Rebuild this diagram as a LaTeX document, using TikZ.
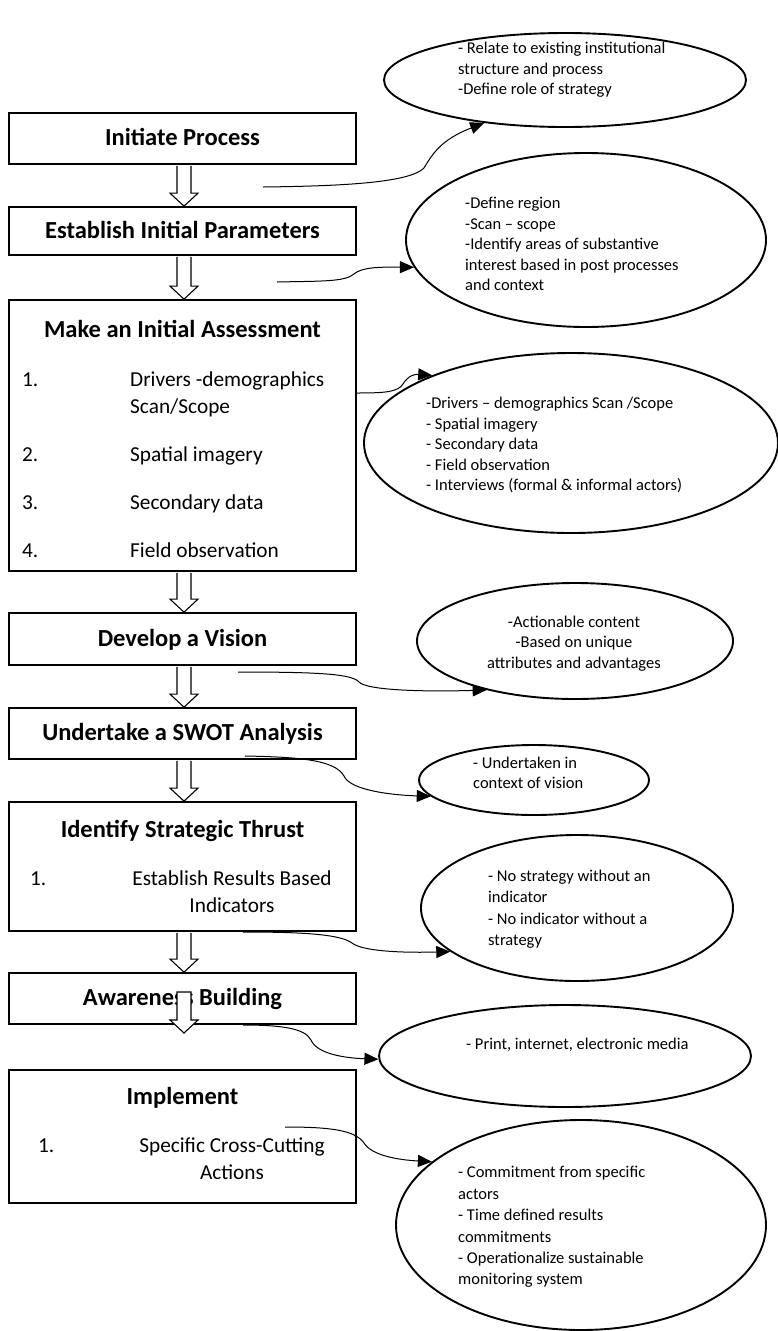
\documentclass[tikz,border=0pt]{standalone}
\usepackage{fontspec}
\setmainfont{Carlito}
\usetikzlibrary{arrows.meta,calc,shapes.geometric}

% hollow down arrow from #1 (top centre) to #2 (tip)
\newcommand\downblock[2]{%
  \draw[blockarrow] let \p1=(#1), \p2=(#2) in
    (\x1-7pt,\y1) -- (\x1-7pt,\y2+13pt) -- (\x1-14pt,\y2+13pt) -- (\x1,\y2)
    -- (\x1+14pt,\y2+13pt) -- (\x1+7pt,\y2+13pt) -- (\x1+7pt,\y1);}

\begin{document}
\begin{tikzpicture}[x=1pt,y=-1pt,
  stepbox/.style={draw, line width=1.7pt, minimum width=347pt, inner sep=0pt},
  steptitle/.style={font=\fontsize{24.5}{29}\selectfont\bfseries, inner sep=0pt,
    text height=19.5pt, text depth=5pt},
  listline/.style={font=\fontsize{21.3}{27}\selectfont, inner sep=0pt, anchor=west,
    text height=16pt, text depth=5.3pt},
  listblock/.style={font=\fontsize{21.3}{27}\selectfont, inner sep=0pt},
  bubble/.style={draw, ellipse, line width=1.9pt, inner sep=0pt},
  bubbletext/.style={font=\fontsize{16.5}{20.5}\selectfont, inner sep=0pt, align=left, anchor=west},
  curvelink/.style={line width=1pt, -{Triangle[length=14pt,width=12pt]}},
  blockarrow/.style={draw, fill=white, line width=1.1pt, line join=miter},
]
\useasboundingbox (0,0) rectangle (777,1331);
\fill[white] (0,0) rectangle (777,1331);

% ---- process steps ----
\node[stepbox, steptitle, minimum height=51pt] (b1) at (182.5,138.5) {Initiate Process};
\node[stepbox, steptitle, minimum height=48pt] (b2) at (182.5,231) {Establish Initial Parameters};
\node[stepbox, minimum height=271pt] (b3) at (182.5,435.5) {};
\node[stepbox, steptitle, minimum height=52pt] (b4) at (182.5,639) {Develop a Vision};
\node[stepbox, steptitle, minimum height=51pt] (b5) at (182.5,733.5) {Undertake a SWOT Analysis};
\node[stepbox, minimum height=129pt] (b6) at (182.5,866.5) {};
\node[stepbox, steptitle, minimum height=51pt] (b7) at (182.5,998.5) {Awareness Building};
\node[stepbox, minimum height=133pt] (b8) at (182.5,1136.5) {};

% titles and lists inside the tall steps
\node[steptitle] (b3t) at (182.5,330) {Make an Initial Assessment};
\node[listline] (b3n1) at (22,381) {1.};
\node[listblock, align=left, anchor=west] (b3i1) at (130,394.5) {Drivers -demographics\\Scan/Scope};
\node[listline] (b3n2) at (22,456) {2.};
\node[listline] (b3i2) at (130,456) {Spatial imagery};
\node[listline] (b3n3) at (22,504) {3.};
\node[listline] (b3i3) at (130,504) {Secondary data};
\node[listline] (b3n4) at (22,552) {4.};
\node[listline] (b3i4) at (130,552) {Field observation};

\node[steptitle] (b6t) at (182.5,830) {Identify Strategic Thrust};
\node[listline] (b6n1) at (30,880) {1.};
\node[listblock, align=center] (b6i1) at (232,892) {Establish Results Based\\Indicators};

\node[steptitle] (b8t) at (182.5,1097) {Implement};
\node[listline] (b8n1) at (38,1147) {1.};
\node[listblock, align=center] (b8i1) at (232,1159) {Specific Cross-Cutting\\Actions};

% ---- notes ----
\node[bubble, minimum width=362pt, minimum height=94pt] (e1) at (565,80) {};
\node[bubble, minimum width=360pt, minimum height=174pt] (e2) at (586,240) {};
\node[bubble, minimum width=414pt, minimum height=180pt] (e3) at (571,443) {};
\node[bubble, minimum width=316pt, minimum height=116pt] (e4) at (575,641) {};
\node[bubble, minimum width=230pt, minimum height=70pt] (e5) at (534,780) {};
\node[bubble, minimum width=312pt, minimum height=146pt] (e6) at (577,908) {};
\node[bubble, minimum width=372pt, minimum height=102pt] (e7) at (565,1056) {};
\node[bubble, minimum width=370pt, minimum height=210pt] (e8) at (581,1225) {};

\node[bubbletext] (n1) at (458,70) {- Relate to existing institutional\\structure and process\\-Define role of strategy};
\node[bubbletext] (n2) at (465,244) {-Define region\\-Scan – scope\\-Identify areas of substantive\\interest based in post processes\\and context};
\node[bubbletext] (n3) at (426,445) {-Drivers – demographics Scan /Scope\\- Spatial imagery\\- Secondary data\\- Field observation\\- Interviews (formal \& informal actors)};
\node[bubbletext, align=center, anchor=center] (n4) at (574,643.5) {-Actionable content\\-Based on unique\\attributes and advantages};
\node[bubbletext] (n5) at (473,773) {- Undertaken in\\context of vision};
\node[bubbletext, font=\fontsize{16.5}{21.5}\selectfont] (n6) at (488,909) {- No strategy without an\\indicator\\- No indicator without a\\strategy};
\node[bubbletext] (n7) at (466,1045) {- Print, internet, electronic media};
\node[bubbletext, font=\fontsize{16.5}{21.4}\selectfont] (n8) at (458,1227) {- Commitment from specific\\actors\\- Time defined results\\commitments\\- Operationalize sustainable\\monitoring system};

% ---- curved links from the steps to their notes ----
\coordinate (s1) at (263,187);
\coordinate (s2) at (277,282);
\coordinate (s3) at (357,393);
\coordinate (s4) at (238,672);
\coordinate (s5) at (245,756);
\coordinate (s6) at (243,932);
\coordinate (s7) at (243,1025);
\coordinate (s8) at (285,1127);

\draw[curvelink] (s1) .. controls (350,186) and (410,182) .. (424,168) .. controls (432,155) and (440,140) .. (e1.208);
\draw[curvelink] (s2) .. controls (320,281) and (345,282) .. (354,274) .. controls (362,267) and (380,267) .. (e2.189);
\draw[curvelink] (s3) .. controls (385,393) and (398,392) .. (403,384) .. controls (408,376) and (414,374) .. (e3.154);
\draw[curvelink] (s4) .. controls (320,672) and (352,674) .. (359,682) .. controls (366,690) and (420,692) .. (e4.209);
\draw[curvelink] (s5) .. controls (300,757) and (335,760) .. (344,776) .. controls (350,790) and (390,795) .. (e5.189);
\draw[curvelink] (s6) .. controls (300,932) and (340,934) .. (352,943) .. controls (362,951) and (400,953) .. (e6.199);
\draw[curvelink] (s7) .. controls (280,1025) and (305,1028) .. (311,1040) .. controls (317,1054) and (345,1058) .. (e7.181);
\draw[curvelink] (s8) .. controls (330,1127) and (355,1130) .. (364,1143) .. controls (372,1156) and (400,1160) .. (e8.157);

% ---- hollow arrows between steps ----
\downblock{$(b1.south)+(1.5,0.9)$}{$(b2.north)+(1.5,0)$}
\downblock{$(b2.south)+(1.5,0.9)$}{$(b3.north)+(1.5,0)$}
\downblock{$(b3.south)+(1.5,0.9)$}{$(b4.north)+(1.5,0)$}
\downblock{$(b4.south)+(1.5,0.9)$}{$(b5.north)+(1.5,0)$}
\downblock{$(b5.south)+(1.5,0.9)$}{$(b6.north)+(1.5,0)$}
\downblock{$(b6.south)+(1.5,0.9)$}{$(b7.north)+(1.5,0)$}
\coordinate (a7top) at (184,992);
\coordinate (a7tip) at (184,1033);
\draw[blockarrow] let \p1=(a7top), \p2=(a7tip) in
  (\x1-7pt,\y1) -- (\x1-7pt,\y2+13pt) -- (\x1-14pt,\y2+13pt) -- (\x1,\y2)
  -- (\x1+14pt,\y2+13pt) -- (\x1+7pt,\y2+13pt) -- (\x1+7pt,\y1) -- cycle;
\end{tikzpicture}
\end{document}
